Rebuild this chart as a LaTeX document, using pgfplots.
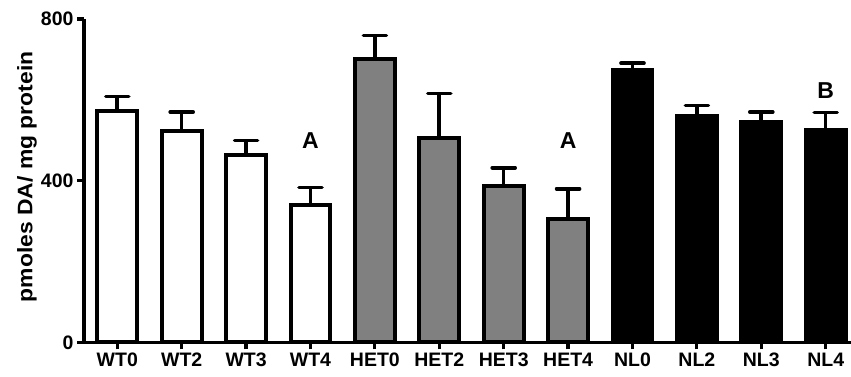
\documentclass[border=0pt]{standalone}
\usepackage{fontspec}
\setmainfont{Liberation Sans}
\usepackage{pgfplots}
\pgfplotsset{compat=1.18}
\usepackage{pgfplotstable}

\pgfplotstableread{
x y e
0 572 36
1 523 47
2 463 36
3 340 43
}\wt
\pgfplotstableread{
x y e
4 700 59
5 505 111
6 388 44
7 304 76
}\het
\pgfplotstableread{
x y e
8 675 16
9 561 25
10 544 26
11 525 44
}\nl

\pgfplotsset{
  mybar/.style={ybar, bar width=0.62, bar shift=0pt, line width=4pt, draw=black,
     error bars/.cd, y dir=plus, y explicit,
     error bar style={line width=3.6pt, black, solid},
     error mark options={rotate=90, line width=3.6pt, mark size=11.5pt, black, line cap=round},
     /pgfplots/.cd},
}

\begin{document}
\begin{tikzpicture}
\begin{axis}[
  scale only axis, width=767pt, height=323.3pt,
  xmin=-0.517, xmax=11.393, ymin=0, ymax=800,
  axis lines*=left,
  axis line style={line width=3.4pt, black},
  ytick={0,400,800},
  xtick={0,...,11},
  xticklabels={WT0,WT2,WT3,WT4,HET0,HET2,HET3,HET4,NL0,NL2,NL3,NL4},
  tick align=outside, major tick length=7pt,
  tick style={line width=3.2pt, black},
  /pgf/number format/assume math mode=true,
  tick label style={font=\fontsize{19.5}{22}\selectfont\bfseries},
  ylabel={\scalebox{1.09}[1]{pmoles DA/ mg protein}},
  ylabel style={font=\fontsize{21}{23}\selectfont\bfseries, at={(axis description cs:-0.0743,0.512)}, anchor=center},
  clip=false,
]
\addplot[mybar, fill=white] table[x=x,y=y,y error=e]{\wt};
\addplot[mybar, fill={rgb,255:red,128;green,128;blue,128}] table[x=x,y=y,y error=e]{\het};
\addplot[mybar, fill=black] table[x=x,y=y,y error=e]{\nl};
\node[font=\fontsize{23}{26}\selectfont\bfseries] at (axis cs:3,500) {A};
\node[font=\fontsize{23}{26}\selectfont\bfseries] at (axis cs:7,500) {A};
\node[font=\fontsize{23}{26}\selectfont\bfseries] at (axis cs:11,624) {B};
\end{axis}
\pgfresetboundingbox
\useasboundingbox (-84pt,-33.7pt) rectangle (767pt,342.3pt);
\end{tikzpicture}
\end{document}
